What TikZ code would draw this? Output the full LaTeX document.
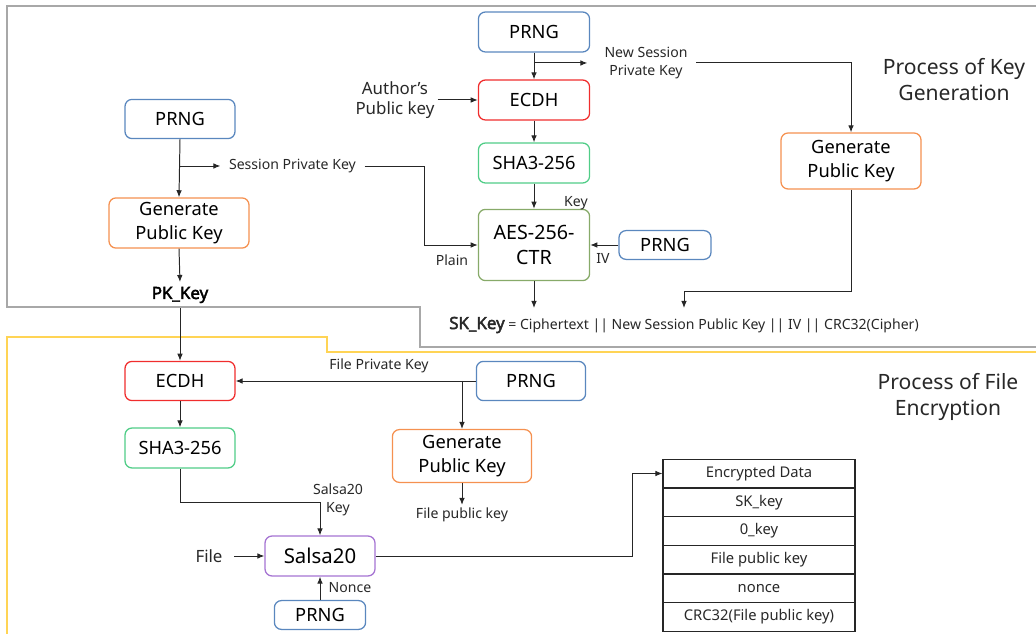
\documentclass[tikz,border=0pt]{standalone}
\usepackage{fontspec}
\setmainfont{Noto Sans}[AutoFakeBold=2.5]
\usepackage{xcolor}
\usepackage{tikz}
\usetikzlibrary{arrows.meta}

\definecolor{prngblue}{RGB}{90,135,190}
\definecolor{ecdhred}{RGB}{240,45,45}
\definecolor{shagreen}{RGB}{80,205,135}
\definecolor{aesgreen}{RGB}{135,170,105}
\definecolor{genorange}{RGB}{245,145,80}
\definecolor{salsapurple}{RGB}{165,115,210}
\definecolor{keygray}{RGB}{168,168,168}
\definecolor{fileyellow}{RGB}{255,212,85}
\definecolor{inkgray}{RGB}{40,40,40}

\tikzset{
    box/.style={draw, rounded corners=5pt, line width=0.9pt, align=center,
        text=black, font=\fontsize{13}{16.5}\selectfont},
    lbl/.style={text=inkgray, align=center, inner sep=2pt,
        font=\fontsize{10}{12.5}\selectfont},
    arr/.style={-{Latex[length=5pt,width=4pt]}, line width=0.7pt, draw=black!85},
    cell/.style={draw=black!85, line width=0.8pt, minimum width=4.8cm,
        minimum height=0.717cm, inner sep=0pt, text=inkgray,
        font=\fontsize{10.5}{12}\selectfont},
    title/.style={align=center, text=inkgray, font=\fontsize{15}{18.5}\selectfont}
}

\begin{document}
\begin{tikzpicture}
    \useasboundingbox (0,0) rectangle (25.9,15.85);

    % Key generation frame
    \draw[keygray, line width=2pt] (25.9,15.7) -- (0.175,15.7) -- (0.175,8.175)
        -- (10.5,8.175) -- (10.5,7.175) -- (25.9,7.175);
    % File encryption frame
    \draw[fileyellow, line width=2pt] (25.9,7.05) -- (8.175,7.05) -- (8.175,7.425)
        -- (0.175,7.425) -- (0.175,0);

    \node[title] (keytitle) at (23.85,13.85) {Process of Key\\Generation};
    \node[title] (filetitle) at (23.7,5.925) {Process of File\\Encryption};

    % Session key (left column)
    \node[box, draw=prngblue, minimum width=2.75cm, minimum height=0.98cm] (prngL) at (4.5,12.875) {PRNG};
    \node[box, draw=genorange, minimum width=3.5cm, minimum height=1.15cm] (genpkL) at (4.475,10.275) {Generate\\Public Key};
    \node[font=\fontsize{12}{14}\selectfont\bfseries] (pkkey) at (4.5,8.475) {PK\_Key};
    \draw[arr] (prngL.south) -- (genpkL.north);
    \draw[arr] (genpkL.south) -- (pkkey.north);

    \coordinate (sbranch) at (4.5,11.7);
    \node[lbl, anchor=west] (sesslbl) at (5.65,11.7) {Session Private Key};
    \draw[arr, shorten >=4pt] (sbranch) -- (sesslbl.west);

    % New session key (middle column)
    \node[box, draw=prngblue, minimum width=2.78cm, minimum height=1cm] (prngA) at (13.35,15.05) {PRNG};
    \node[box, draw=ecdhred, minimum width=2.78cm, minimum height=1cm] (ecdhA) at (13.35,13.35) {ECDH};
    \node[box, draw=shagreen, minimum width=2.78cm, minimum height=1cm] (shaA) at (13.35,11.775) {SHA3-256};
    \node[box, draw=aesgreen, minimum width=2.78cm, minimum height=1.78cm,
        font=\fontsize{14}{18}\selectfont] (aes) at (13.35,9.725) {AES-256-\\CTR};
    \node[box, draw=prngblue, minimum width=2.3cm, minimum height=0.72cm] (prngIV) at (16.625,9.725) {PRNG};
    \node[lbl, font=\fontsize{12}{14.5}\selectfont] (authkey) at (9.875,13.35) {Author's\\Public key};

    \draw[arr] (prngA.south) -- (ecdhA.north);
    \draw[arr] (authkey.east) -- (ecdhA.west);
    \draw[arr] (ecdhA.south) -- (shaA.north);
    \draw[arr] (shaA.south) -- (aes.north);
    \draw[arr] (prngIV.west) -- (aes.east);
    \node[lbl] (keylbl) at (14.4,10.775) {Key};
    \node[lbl] (ivlbl) at (15.075,9.4) {IV};
    \node[lbl] (plainlbl) at (11.3,9.35) {Plain};

    \coordinate (plainc) at (10.6,11.7);
    \draw[arr] ([xshift=4pt]sesslbl.east) -- (plainc) |- (aes.west);

    \coordinate (nbranch) at (13.35,14.275);
    \node[lbl] (newlbl) at (16.15,14.275) {New Session\\Private Key};
    \draw[arr] (nbranch) -- ([xshift=-10pt]newlbl.west);

    % New session public key (right column)
    \node[box, draw=genorange, minimum width=3.5cm, minimum height=1.4cm] (genpkR) at (21.275,11.825) {Generate\\Public Key};
    \coordinate (ncorner) at (21.275,14.275);
    \draw[arr] ([xshift=4pt]newlbl.east) -- (ncorner) -- (genpkR.north);

    % SK_Key
    \node[anchor=west, text=inkgray, inner sep=0pt] (skkey) at (11.225,7.725)
        {{\fontsize{12}{14}\selectfont\bfseries SK\_Key} {\fontsize{10}{12}\selectfont = Ciphertext || New Session Public Key || IV || CRC32(Cipher)}};
    \coordinate (skin) at (17.1,8.15);
    \draw[arr] (aes.south) -- (aes.south |- skin);
    \draw[arr] (genpkR.south) -- ++(0,-2.55) -| (skin);

    % File encryption
    \node[box, draw=ecdhred, minimum width=2.75cm, minimum height=0.98cm] (ecdhB) at (4.5,6.325) {ECDH};
    \node[box, draw=shagreen, minimum width=2.75cm, minimum height=1cm] (shaB) at (4.5,4.65) {SHA3-256};
    \node[box, draw=prngblue, minimum width=2.73cm, minimum height=0.98cm] (prngF) at (13.275,6.325) {PRNG};
    \node[box, draw=genorange, minimum width=3.48cm, minimum height=1.32cm] (genpkF) at (11.55,4.45) {Generate\\Public Key};
    \node[lbl] (filepub) at (11.55,2.975) {File public key};
    \draw[arr] (pkkey.south) -- (ecdhB.north);
    \draw[arr] (ecdhB.south) -- (shaB.north);
    \draw[arr] (prngF.west) -- (ecdhB.east);
    \node[lbl] (fprivlbl) at (9.475,6.7) {File Private Key};
    \coordinate (fbranch) at (11.55,6.325);
    \draw[arr] (fbranch) -- (genpkF.north);
    \draw[arr] (genpkF.south) -- (filepub.north);

    % Salsa20
    \node[box, draw=salsapurple, minimum width=2.75cm, minimum height=1cm,
        font=\fontsize{14.5}{17}\selectfont] (salsa) at (8,1.95) {Salsa20};
    \node[box, draw=prngblue, minimum width=2.28cm, minimum height=0.72cm] (prngN) at (8,0.475) {PRNG};
    \node[lbl, font=\fontsize{12}{14}\selectfont] (filein) at (5.225,1.95) {File};
    \node[lbl] (salsakey) at (8.45,3.35) {Salsa20\\Key};
    \node[lbl] (noncelbl) at (8.75,1.15) {Nonce};
    \draw[arr] (shaB.south) -- ++(0,-0.85) -| (salsa.north);
    \draw[arr] ([xshift=6pt]filein.east) -- (salsa.west);
    \draw[arr] (prngN.north) -- (salsa.south);

    % Output file layout
    \node[cell] (r1) at (18.975,4.0125) {Encrypted Data};
    \node[cell] (r2) at (18.975,3.2875) {SK\_key};
    \node[cell] (r3) at (18.975,2.575) {0\_key};
    \node[cell] (r4) at (18.975,1.8625) {File public key};
    \node[cell] (r5) at (18.975,1.1375) {nonce};
    \node[cell] (r6) at (18.975,0.425) {CRC32(File public key)};
    \coordinate (tcorner) at (15.8,1.95);
    \draw[arr] (salsa.east) -- (tcorner) |- (r1.west);
\end{tikzpicture}
\end{document}
